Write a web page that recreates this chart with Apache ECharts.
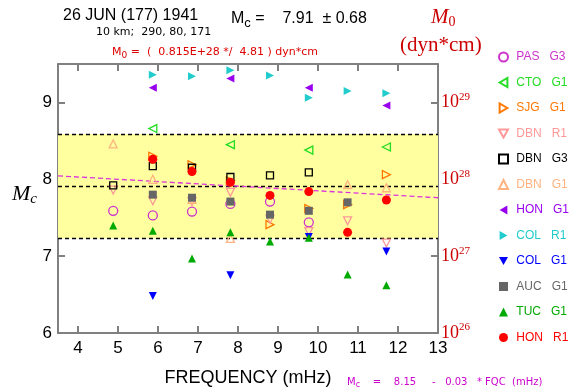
<!DOCTYPE html>
<html><head><meta charset="utf-8">
<script src="https://cdn.jsdelivr.net/npm/echarts@6/dist/echarts.min.js"></script>
<style>html,body{margin:0;padding:0;background:#fff}#c{width:570px;height:392px}</style>
</head><body><div id="c"></div>
<script>
// ---- data ----
const FREQ   = [4.88, 5.87, 6.85, 7.81, 8.80, 9.77, 10.74, 11.71];
const PAS_G3 = [7.59, 7.53, 7.58, 7.68, 7.71, 7.44, null, null];
const CTO_G1 = [null, 8.66, null, 8.45, null, 8.38, null, 8.42];
const SJG_G1 = [null, 8.30, 8.19, 7.98, 7.41, 7.62, 7.67, 8.06];
const DBN_R1 = [7.86, 7.72, 7.71, 7.83, 7.48, 7.32, 7.46, 7.17];
const DBN_G3 = [7.92, 8.17, 8.15, 8.03, 8.05, 8.09, null, null];
const DBN_G1 = [8.46, 8.00, 7.74, 7.23, null, null, 7.93, 7.89];
const HON_G1 = [null, 9.19, null, 9.31, null, 9.19, null, 8.96];
const COL_R1 = [null, 9.36, 9.34, 9.42, 9.35, 9.06, 9.15, 9.12];
const COL_G1 = [null, 6.48, null, 6.75, null, 7.25, null, 7.06];
const AUC_G1 = [null, 7.80, 7.76, 7.71, 7.54, 7.59, 7.70, null];
const TUC_G1 = [7.40, 7.33, 6.97, 7.31, 7.19, 7.24, 6.76, 6.62];
const HON_R1 = [null, 8.26, 8.10, 7.96, 7.79, 7.84, 7.31, 7.73];
const SERIES_NAMES = ['PAS   G3','CTO   G1','SJG   G1','DBN   R1','DBN   G3','DBN   G1','HON   G1','COL   R1','COL   G1','AUC   G1','TUC   G1','HON   R1'];
const SERIES_VALUES = [PAS_G3, CTO_G1, SJG_G1, DBN_R1, DBN_G3, DBN_G1, HON_G1, COL_R1, COL_G1, AUC_G1, TUC_G1, HON_R1];
const X_TICKS = [4,5,6,7,8,9,10,11,12,13];
const Y_TICKS = [6,7,8,9];
const M0_EXPONENTS = ['26','27','28','29'];
const MC_MEAN = 7.91, MC_ERR = 0.68;
const FIT_A = 8.15, FIT_B = 0.03;
const X_MIN = 3.5, X_MAX = 13, Y_MIN = 6, Y_MAX = 9.5;

// ---- styles ----
const TRI_LEFT = 'path://M0,50L86.6,0L86.6,100Z';
const TRI_RIGHT = 'path://M86.6,50L0,0L0,100Z';
const TRI_DOWN = 'path://M0,0L100,0L50,86.6Z';
const STYLES = [
  {color:'#CC33CC', symbol:'circle',   rot:0,   icon:'circle',   open:true,  size:9},
  {color:'#22DD22', symbol:'triangle', rot:90,  icon:TRI_LEFT,   open:true,  size:8},
  {color:'#FF7700', symbol:'triangle', rot:-90, icon:TRI_RIGHT,  open:true,  size:8},
  {color:'#FF9999', symbol:'triangle', rot:180, icon:TRI_DOWN,   open:true,  size:8},
  {color:'#000000', symbol:'rect',     rot:0,   icon:'rect',     open:true,  size:7},
  {color:'#FFB380', symbol:'triangle', rot:0,   icon:'triangle', open:true,  size:8},
  {color:'#9900EE', symbol:'triangle', rot:90,  icon:TRI_LEFT,   open:false, size:8},
  {color:'#22CCCC', symbol:'triangle', rot:-90, icon:TRI_RIGHT,  open:false, size:8},
  {color:'#0000FF', symbol:'triangle', rot:180, icon:TRI_DOWN,   open:false, size:8},
  {color:'#666666', symbol:'rect',     rot:0,   icon:'rect',     open:false, size:8},
  {color:'#00AA00', symbol:'triangle', rot:0,   icon:'triangle', open:false, size:8},
  {color:'#FF0000', symbol:'circle',   rot:0,   icon:'circle',   open:false, size:9}
];
const SANS = 'Liberation Sans';
const DEJA = 'DejaVu Sans';
const SERIF = 'Liberation Serif';
const AX = '#808080';

const chart = echarts.init(document.getElementById('c'), null, {renderer:'canvas'});

const scatterSeries = SERIES_NAMES.map((name, i) => {
  const st = STYLES[i];
  const data = [];
  FREQ.forEach((f, j) => { if (SERIES_VALUES[i][j] != null) data.push([f, SERIES_VALUES[i][j]]); });
  return {
    name, type:'scatter', data, z:5,
    symbol: st.symbol, symbolRotate: st.rot, symbolSize: st.size,
    itemStyle: st.open ? {color:'rgba(0,0,0,0)', borderColor: st.color, borderWidth:1.3, opacity:1}
                       : {color: st.color, opacity:1},
    emphasis:{disabled:true}
  };
});

const bandSeries = {
  name:'band', type:'scatter', data:[], z:1, silent:true,
  markArea:{silent:true, itemStyle:{color:'#FFFFA0'}, data:[[{yAxis: MC_MEAN - MC_ERR}, {yAxis: MC_MEAN + MC_ERR}]]},
  markLine:{silent:true, symbol:['none','none'], label:{show:false},
    lineStyle:{color:'#000', width:1.3, type:[4,3]},
    data:[{yAxis: MC_MEAN + MC_ERR}, {yAxis: MC_MEAN}, {yAxis: MC_MEAN - MC_ERR},
      [{coord:[X_MIN, FIT_A - FIT_B*X_MIN], lineStyle:{color:'#DD33DD', width:1.3, type:[5,3]}},
       {coord:[X_MAX, FIT_A - FIT_B*X_MAX]}]]}
};

const xAxisBase = {
  type:'value', min:X_MIN, max:X_MAX,
  axisLine:{onZero:false, lineStyle:{color:AX, width:2}},
  axisTick:{inside:true, length:7, customValues:X_TICKS, lineStyle:{color:AX, width:2}},
  splitLine:{show:false}
};
const yAxisBase = {
  type:'value', min:Y_MIN, max:Y_MAX,
  axisLine:{show:true, onZero:false, lineStyle:{color:AX, width:2}},
  axisTick:{show:true, inside:true, length:7, customValues:Y_TICKS, lineStyle:{color:AX, width:2}},
  splitLine:{show:false}
};

chart.setOption({
  animation:false,
  grid:{left:58, right:132, top:64, bottom:57, containLabel:false},
  xAxis:[
    Object.assign({}, xAxisBase, {position:'bottom',
      axisLabel:{customValues:X_TICKS, color:'#000', fontSize:17, fontFamily:SANS, margin:7},
      name:'FREQUENCY (mHz)', nameLocation:'middle', nameGap:36,
      nameTextStyle:{color:'#000', fontSize:18, fontFamily:SANS}}),
    Object.assign({}, xAxisBase, {position:'top', axisLabel:{show:false}})
  ],
  yAxis:[
    Object.assign({}, yAxisBase, {position:'left',
      axisLabel:{customValues:Y_TICKS, color:'#000', fontSize:17, fontFamily:SANS, margin:6}}),
    Object.assign({}, yAxisBase, {position:'right',
      axisLabel:{customValues:Y_TICKS, margin:3,
        formatter: v => '{b|10}{s|' + M0_EXPONENTS[Math.round(v) - Y_MIN] + '}',
        rich:{b:{fontSize:18, fontFamily:SERIF, color:'#CC0000'},
              s:{fontSize:11, fontFamily:SERIF, color:'#CC0000', padding:[0,0,11,0]}}}})
  ],
  legend:{orient:'vertical', left:493, top:46, itemWidth:9, itemHeight:9, itemGap:13.5,
    selectedMode:false,
    formatter: n => ' ' + n,
    textStyle:{fontSize:12, fontFamily:SANS},
    data: SERIES_NAMES.map((n,i)=>({name:n, icon:STYLES[i].icon, textStyle:{color:STYLES[i].color}}))},
  graphic:[
    {type:'text', x:63, y:8, style:{text:'26 JUN (177) 1941', font:'16px "Liberation Sans"', fill:'#000'}},
    {type:'text', x:231, y:8, style:{text:'{m|M}{s|c}{m| =    7.91  ± 0.68}', fill:'#000',
      rich:{m:{fontSize:16, fontFamily:SANS}, s:{fontSize:13, fontFamily:SANS, padding:[9,0,0,0]}}}},
    {type:'text', x:96, y:27, style:{text:'10 km;  290, 80, 171', font:'11px "DejaVu Sans"', fill:'#000'}},
    {type:'text', x:112, y:45, style:{text:'{m|M}{s|0}{m| =  (  0.815E+28 */  4.81 ) dyn*cm}', fill:'#DD0000',
      rich:{m:{fontSize:11, fontFamily:DEJA}, s:{fontSize:9, fontFamily:DEJA, padding:[6,0,0,0]}}}},
    {type:'text', x:431, y:5, style:{text:'{m|M}{s|0}', fill:'#CC0000',
      rich:{m:{fontSize:21, fontFamily:SERIF, fontStyle:'italic'}, s:{fontSize:14, fontFamily:SERIF, padding:[10,0,0,0]}}}},
    {type:'text', x:400, y:35, style:{text:'(dyn*cm)', font:'21px "Liberation Serif"', fill:'#CC0000'}},
    {type:'text', x:12, y:182, style:{text:'{m|M}{s|c}', fill:'#000',
      rich:{m:{fontSize:22, fontFamily:SERIF, fontStyle:'italic'}, s:{fontSize:15, fontFamily:SERIF, fontStyle:'italic', padding:[10,0,0,0]}}}},
    {type:'text', x:347, y:375, style:{text:'{m|M}{s|c}{m|    =    8.15     -   0.03   * FQC  (mHz)}', fill:'#CC00CC',
      rich:{m:{fontSize:10, fontFamily:DEJA}, s:{fontSize:8, fontFamily:DEJA, padding:[6,0,0,0]}}}}
  ],
  series:[bandSeries].concat(scatterSeries)
});
</script></body></html>
